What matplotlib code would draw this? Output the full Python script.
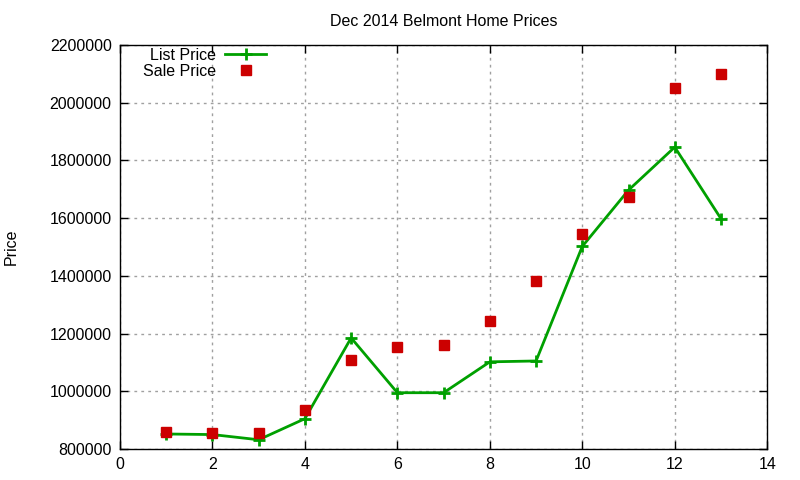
import numpy as np
import matplotlib
matplotlib.use("Agg")
import matplotlib.pyplot as plt

# ------------------ DATA ------------------
house = [1, 2, 3, 4, 5, 6, 7, 8, 9, 10, 11, 12, 13]
list_price = [852000, 850000, 832000, 905000, 1185000, 995000, 995000,
              1102000, 1105000, 1502000, 1697000, 1846000, 1598000]
sale_price = [858000, 857000, 857000, 935000, 1109000, 1154000, 1160000,
              1243000, 1382000, 1545000, 1672000, 2052000, 2101000]
x_ticks = [0, 2, 4, 6, 8, 10, 12, 14]
y_ticks = [800000, 1000000, 1200000, 1400000, 1600000, 1800000, 2000000, 2200000]
# ------------------------------------------

plt.rcParams['font.family'] = ['Liberation Sans', 'DejaVu Sans']
plt.rcParams['font.size'] = 11.5

fig = plt.figure(figsize=(8, 4.8), dpi=100)
ax = fig.add_axes([0.15, 0.0646, 0.809, 0.8417])

ax.plot(house, list_price, color='#00a000', linewidth=2, marker='+',
        markersize=9, markeredgewidth=2, label='List Price')
ax.plot(house, sale_price, linestyle='none', color='#cc0000', marker='s',
        markersize=6.8, label='Sale Price')

ax.set_xlim(0, 14)
ax.set_ylim(800000, 2200000)
ax.set_xticks(x_ticks)
ax.set_yticks(y_ticks)
ax.set_yticklabels([str(v) for v in y_ticks])
ax.tick_params(direction='in', length=6, width=1, top=True, right=True,
               labelsize=11.5, pad=6)
ax.grid(True, color='#a0a0a0', linestyle=(0, (2, 3)), linewidth=1)
for sp in ax.spines.values():
    sp.set_linewidth(1)

ax.set_title('Dec 2014 Belmont Home Prices', fontsize=11.5, pad=14)
ax.set_ylabel('Price', fontsize=11.5, labelpad=22)

# legend sits top-left, text before the sample like gnuplot
ax.legend(loc='upper left', bbox_to_anchor=(0.018, 1.02), frameon=False,
          markerfirst=False, handlelength=2.6, handletextpad=0.55,
          labelspacing=0.05, borderaxespad=0.3, fontsize=11.5)

fig.savefig('out.png', dpi=100)
